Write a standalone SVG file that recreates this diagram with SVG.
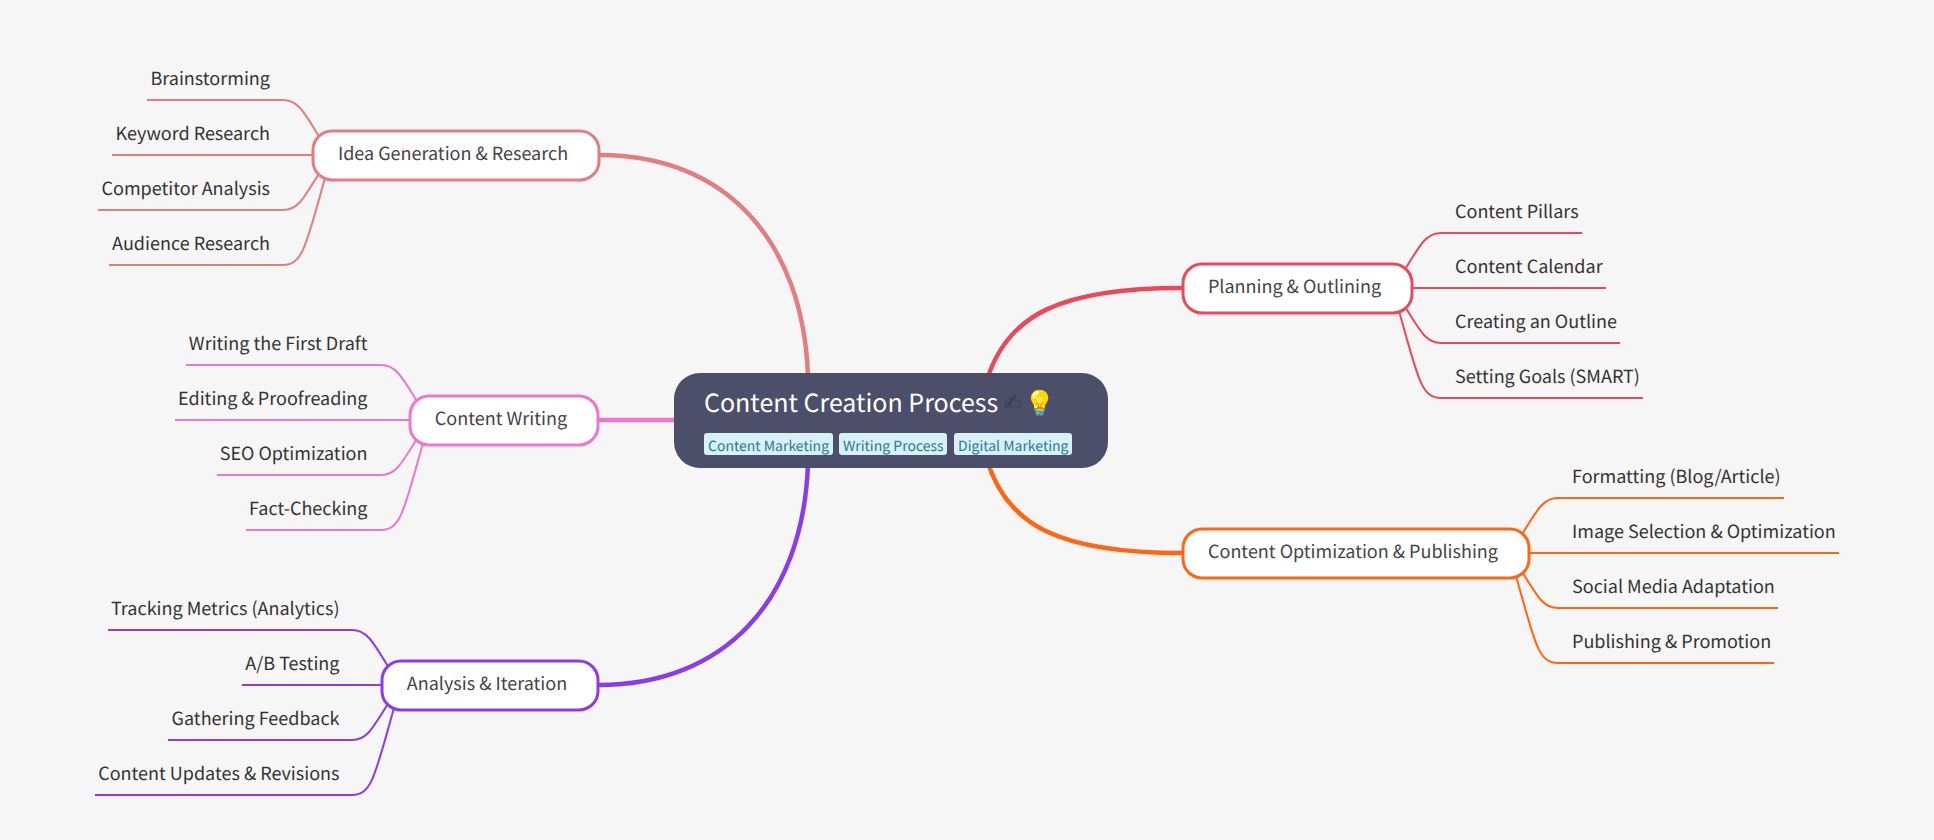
<svg xmlns="http://www.w3.org/2000/svg" width="1934" height="840" viewBox="0 0 1934 840">
<style>
text{font-family:"Noto Sans CJK SC","Noto Sans",sans-serif;text-rendering:geometricPrecision}
.leaf{font-size:18px;fill:#333}
.sub{font-size:18px;fill:#444;text-anchor:middle}
.e{text-anchor:end}
path{fill:none}
.m{stroke-width:4.5}
.l{stroke-width:2}
.n{fill:#fff;stroke-width:3}
.tag{fill:#d6f1f8}
.tt{font-size:14px;fill:#2b7a91}
.c1{stroke:#e27d80}.c2{stroke:#e94a5a}.c3{stroke:#ed77cc}.c4{stroke:#ff6611}.c5{stroke:#8a3ce8}
</style>
<rect width="1934" height="840" fill="#f6f6f6"/>
<g id="connectors">
<path class="m c1" d="M600 155C725 155 803 240 808 376"/>
<path class="m c5" d="M598 685C725 685 803 600 808 464"/>
<path class="m c3" d="M598 420H680"/>
<path class="m c2" d="M1182 288C1060 288 1007 315 987 380"/>
<path class="m c4" d="M1182 553C1060 553 1007 526 987 460"/>
<g class="l c1">
<path d="M147 100H283C298 100 304 112 320 138"/>
<path d="M112 155H320"/>
<path d="M98 210H283C298 210 304 198 320 172"/>
<path d="M109 265H283C303 265 306 245 325 178"/>
</g>
<g class="l c3">
<path d="M186 365H381C396 365 402 377 418 403"/>
<path d="M175 420H418"/>
<path d="M217 475H381C396 475 402 463 418 437"/>
<path d="M246 530H381C401 530 404 510 423 443"/>
</g>
<g class="l c5">
<path d="M108 630H352C367 630 373 642 389 668"/>
<path d="M242 685H389"/>
<path d="M168 740H352C367 740 373 728 389 702"/>
<path d="M95 795H352C372 795 375 775 394 708"/>
</g>
<g class="l c2">
<path d="M1582 233H1441C1426 233 1420 245 1404 271"/>
<path d="M1606 288H1404"/>
<path d="M1620 343H1441C1426 343 1420 331 1404 305"/>
<path d="M1643 398H1441C1421 398 1418 378 1399 311"/>
</g>
<g class="l c4">
<path d="M1784 498H1558C1543 498 1537 510 1521 536"/>
<path d="M1839 553H1521"/>
<path d="M1778 608H1558C1543 608 1537 596 1521 570"/>
<path d="M1774 663H1558C1538 663 1535 643 1516 576"/>
</g>
</g>
<g id="root">
<rect x="674" y="373" width="434" height="95" rx="26" fill="#4c4f69"/>
<text x="704" y="412" font-size="25" fill="#fff">Content Creation Process</text>
<text x="1003" y="411" font-size="23" fill="#3c3d4e" style="font-family:'DejaVu Sans',sans-serif">✍&#xFE0E;</text>
<text x="1024" y="412" font-size="25">💡</text>
<rect class="tag" x="704" y="433" width="129" height="22" rx="3"/>
<text class="tt" x="708" y="451">Content Marketing</text>
<rect class="tag" x="839" y="433" width="108" height="22" rx="3"/>
<text class="tt" x="843" y="451">Writing Process</text>
<rect class="tag" x="954" y="433" width="118" height="22" rx="3"/>
<text class="tt" x="958" y="451">Digital Marketing</text>
</g>
<g id="idea"><rect class="n c1" x="313" y="131" width="286" height="49" rx="19"/><text class="sub" x="453" y="160">Idea Generation &amp; Research</text></g>
<g id="writing"><rect class="n c3" x="410" y="396" width="188" height="49" rx="19"/><text class="sub" x="501" y="425">Content Writing</text></g>
<g id="analysis"><rect class="n c5" x="382" y="661" width="216" height="49" rx="19"/><text class="sub" x="487" y="690">Analysis &amp; Iteration</text></g>
<g id="planning"><rect class="n c2" x="1183" y="264" width="229" height="49" rx="19"/><text class="sub" x="1294.5" y="293">Planning &amp; Outlining</text></g>
<g id="optimization"><rect class="n c4" x="1183" y="529" width="346" height="49" rx="19"/><text class="sub" x="1353" y="558">Content Optimization &amp; Publishing</text></g>
<g id="leaves-idea" class="leaf">
<text class="e" x="270" y="85">Brainstorming</text>
<text class="e" x="270" y="140">Keyword Research</text>
<text class="e" x="270" y="195">Competitor Analysis</text>
<text class="e" x="270" y="250">Audience Research</text>
</g>
<g id="leaves-writing" class="leaf">
<text class="e" x="367.5" y="350">Writing the First Draft</text>
<text class="e" x="367.5" y="405">Editing &amp; Proofreading</text>
<text class="e" x="367.5" y="460">SEO Optimization</text>
<text class="e" x="367.5" y="515">Fact-Checking</text>
</g>
<g id="leaves-analysis" class="leaf">
<text class="e" x="339.5" y="615">Tracking Metrics (Analytics)</text>
<text class="e" x="339.5" y="670">A/B Testing</text>
<text class="e" x="339.5" y="725">Gathering Feedback</text>
<text class="e" x="339.5" y="780">Content Updates &amp; Revisions</text>
</g>
<g id="leaves-planning" class="leaf">
<text x="1455" y="218">Content Pillars</text>
<text x="1455" y="273">Content Calendar</text>
<text x="1455" y="328">Creating an Outline</text>
<text x="1455" y="383">Setting Goals (SMART)</text>
</g>
<g id="leaves-optimization" class="leaf">
<text x="1572" y="483">Formatting (Blog/Article)</text>
<text x="1572" y="538">Image Selection &amp; Optimization</text>
<text x="1572" y="593">Social Media Adaptation</text>
<text x="1572" y="648">Publishing &amp; Promotion</text>
</g>
</svg>
